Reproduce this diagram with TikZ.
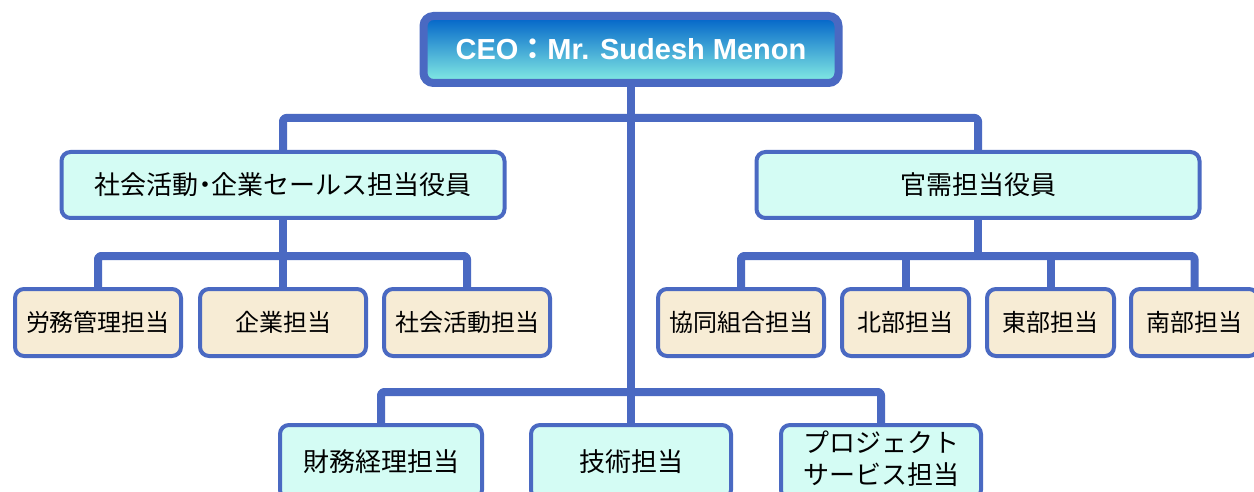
\documentclass[tikz,border=0pt]{standalone}
\usepackage{fontspec}
\setmainfont{Liberation Sans}
\newfontfamily\jp{Noto Sans CJK JP}
\definecolor{lineblue}{HTML}{4A69C2}
\definecolor{mint}{HTML}{D4FCF4}
\definecolor{beige}{HTML}{F7ECD5}
\definecolor{topblue}{HTML}{0062C8}
\definecolor{midblue}{HTML}{1494E4}
\definecolor{botcyan}{HTML}{86EEE4}
\begin{document}
\begin{tikzpicture}[x=1pt,y=-1pt,
  box/.style={draw=lineblue, line width=4pt, rounded corners=9pt, inner sep=0pt,
    text=black, font=\jp\fontsize{24}{30}\selectfont, align=center},
  execbox/.style={box, fill=mint, minimum width=443pt, minimum height=66pt,
    font=\jp\fontsize{26}{32}\selectfont},
  unitbox/.style={box, fill=beige, minimum height=67pt},
  botbox/.style={box, fill=mint, minimum height=74pt, minimum width=200pt,
    font=\jp\fontsize{26}{32}\selectfont},
  conn/.style={draw=lineblue, line width=8pt, line join=round, rounded corners=3pt}]
\useasboundingbox (0,0) rectangle (1254,492);

% CEO
\node[draw=lineblue, line width=8pt, rounded corners=10pt,
  top color=topblue, middle color=midblue, bottom color=botcyan,
  minimum width=415pt, minimum height=67pt, inner sep=0pt, text=white,
  font=\bfseries\fontsize{29}{34}\selectfont] (ceo) at (631,49.5)
  {CEO{\jp\bfseries ：}Mr. Sudesh Menon};

% executives
\node[execbox] (ex1) at (283,185) {社会活動\hspace{-0.25em}・\hspace{-0.25em}企業セールス担当役員};
\node[execbox] (ex2) at (978,185) {官需担当役員};

% left units
\node[unitbox, minimum width=166pt] (u1) at (98,322.5) {労務管理担当};
\node[unitbox, minimum width=166pt] (u2) at (283,322.5) {企業担当};
\node[unitbox, minimum width=166pt] (u3) at (467,322.5) {社会活動担当};

% right units
\node[unitbox, minimum width=166pt] (r1) at (741,322.5) {協同組合担当};
\node[unitbox, minimum width=127pt] (r2) at (905.5,322.5) {北部担当};
\node[unitbox, minimum width=127pt] (r3) at (1050.5,322.5) {東部担当};
\node[unitbox, minimum width=127pt] (r4) at (1194.5,322.5) {南部担当};

% bottom row
\node[botbox, minimum width=202pt] (b1) at (381,462) {\raisebox{3pt}{財務経理担当}};
\node[botbox] (b2) at (631,462) {\raisebox{3pt}{技術担当}};
\node[botbox] (b3) at (881,462) {\raisebox{3pt}{\begin{tabular}{@{}c@{}}プロジェクト\\サービス担当\end{tabular}}};

% connectors
\coordinate (j0) at (631,118);
\coordinate (j1) at (283,256);
\coordinate (j2) at (978,256);
\coordinate (j3) at (631,392);

\draw[conn] (ceo.south) -- (b2.north);
\draw[conn] (ex1.north) |- (j0) -| (ex2.north);

\draw[conn] (ex1.south) -- (u2.north);
\draw[conn] (u1.north) |- (j1) -| (u3.north);

\draw[conn] (ex2.south) -- (j2);
\draw[conn] (r1.north) |- (j2) -| (r4.north);
\draw[conn] (r2.north) -- (r2.north |- j2);
\draw[conn] (r3.north) -- (r3.north |- j2);

\draw[conn] (b1.north) |- (j3) -| (b3.north);
\end{tikzpicture}
\end{document}
